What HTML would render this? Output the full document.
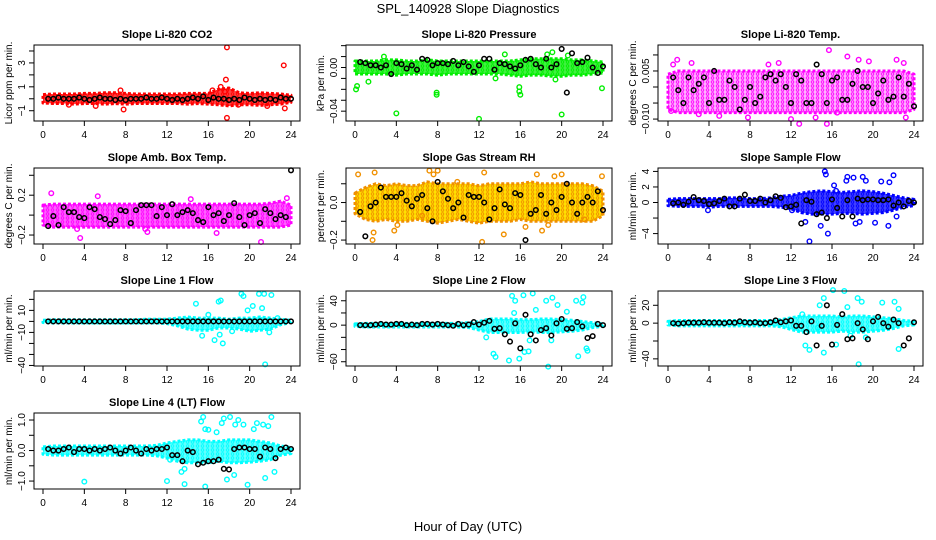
<!DOCTYPE html>
<html><head><meta charset="utf-8"><style>
html,body{margin:0;padding:0;background:#fff;}
svg{display:block;font-family:"Liberation Sans",sans-serif;}
</style></head><body>
<svg id="c" width="936" height="540" viewBox="0 0 936 540">
<defs id="defs"></defs>
<text x="468" y="13" text-anchor="middle" font-size="13">SPL_140928  Slope Diagnostics</text>
<text x="468" y="531" text-anchor="middle" font-size="13">Hour of Day (UTC)</text>
</svg>
<script>
const hoursBand=[0,1,2,3,4,5,6,7,8,9,10,11,12,13,14,15,16,17,18,19,20,21,22,23,24];
const xTicks=[0,4,8,12,16,20,24];
// P1 CO2
const p1Lo=[-0.35,-0.4,-0.4,-0.45,-0.4,-0.4,-0.45,-0.4,-0.45,-0.4,-0.4,-0.4,-0.4,-0.4,-0.45,-0.4,-0.45,-0.5,-0.6,-0.5,-0.5,-0.55,-0.5,-0.45,-0.3];
const p1Hi=[0.35,0.4,0.4,0.4,0.45,0.45,0.5,0.5,0.45,0.4,0.4,0.4,0.4,0.4,0.45,0.45,0.45,0.8,0.9,0.5,0.45,0.5,0.45,0.4,0.3];
const p1OutX=[17.8,23.3,17.7,17.8,23.4,7.8,5.1,7.5,17.2,17.6,16.4,2.5,18.9,21.7];
const p1OutY=[4.3,2.8,1.6,-1.6,-0.8,-0.9,-0.6,0.7,1.0,0.6,0.7,-0.5,-0.5,-0.6];
const p1Mean=[0,0,0.1,0,0,0,0.1,0,-0.1,0,0.1,0,0,-0.1,0,-0.1,0,0,0,0.1,0,0,0.1,0,-0.1,0,-0.1,0,0.1,0,0.2,-0.1,0.1,0,0,-0.1,0,-0.1,0.1,0,-0.1,0,-0.1,0,-0.1,0.1,0,0];
// P2 Pressure
const p2Lo=[-0.006,-0.006,-0.006,-0.006,-0.007,-0.006,-0.006,-0.006,-0.007,-0.006,-0.006,-0.006,-0.006,-0.006,-0.006,-0.007,-0.008,-0.007,-0.007,-0.008,-0.008,-0.007,-0.007,-0.006,-0.005];
const p2Hi=[0.006,0.006,0.006,0.007,0.007,0.006,0.006,0.007,0.006,0.006,0.006,0.006,0.006,0.006,0.006,0.006,0.007,0.008,0.008,0.008,0.008,0.007,0.007,0.006,0.005];
const p2OutX=[0.1,0.2,1.3,4,7.9,7.9,12,15.9,15.9,16,20,23.9,2.8,14.5,19.1,20.6,19.4,13.6,18.6];
const p2OutY=[-0.02,-0.017,-0.013,-0.042,-0.023,-0.025,-0.047,-0.018,-0.022,-0.025,-0.043,-0.019,0.01,0.012,0.014,0.011,-0.011,-0.01,0.012];
const p2Mean=[0.005,0.004,0.002,0.002,0,0.002,-0.006,0.004,0.003,-0.001,0.002,-0.002,0.008,0.007,0.002,0.004,0.004,0.003,0.006,0.002,0.005,0.001,-0.004,0.002,0.008,0.008,-0.002,0.004,0.003,0.001,-0.001,0.002,0.007,0.008,0.003,0,0.008,0,0.003,0.017,-0.023,0.013,0.004,0.005,0.009,0,-0.005,0.001];
// P3 Li-820 Temp
const p3Lo=[-0.007,-0.008,-0.008,-0.008,-0.008,-0.008,-0.008,-0.008,-0.008,-0.008,-0.008,-0.008,-0.008,-0.008,-0.008,-0.008,-0.008,-0.008,-0.008,-0.008,-0.008,-0.008,-0.008,-0.008,-0.007];
const p3Hi=[0.004,0.005,0.005,0.005,0.005,0.005,0.005,0.005,0.005,0.005,0.005,0.005,0.005,0.005,0.005,0.005,0.005,0.005,0.005,0.005,0.005,0.005,0.005,0.005,0.004];
const p3OutX=[0.9,2.3,0.5,5.0,7.8,9.8,10.8,12,12.8,14.4,15.5,15.7,17.5,18.6,19.6,23,22.3,23.2,16.5,3,0.3];
const p3OutY=[0.0085,0.0075,0.007,-0.009,-0.0095,0.007,0.0075,-0.01,-0.0115,-0.0095,-0.0115,0.0115,0.0095,0.0085,0.008,0.0075,0.0085,-0.0095,-0.008,-0.0085,-0.0075];
const p3Mean=[0.003,-0.001,-0.005,0.003,-0.001,0.001,0.003,-0.005,0.005,-0.004,-0.004,0.002,0,-0.007,-0.004,0,-0.005,-0.003,0.003,0.004,0.002,0.004,0,-0.005,0.004,0.002,-0.005,-0.005,0.007,0.004,-0.005,0.002,0.003,-0.004,-0.004,0.001,0.005,0,0,-0.005,-0.002,0.002,-0.004,-0.003,0.003,-0.003,0.001,-0.006];
// P4 Amb Box Temp
const p4Lo=[-0.1,-0.12,-0.12,-0.12,-0.12,-0.12,-0.12,-0.12,-0.12,-0.12,-0.12,-0.12,-0.12,-0.12,-0.12,-0.12,-0.12,-0.12,-0.12,-0.12,-0.12,-0.12,-0.12,-0.12,-0.1];
const p4Hi=[0.1,0.11,0.11,0.11,0.11,0.11,0.11,0.11,0.11,0.11,0.11,0.11,0.11,0.11,0.11,0.11,0.11,0.11,0.11,0.11,0.11,0.11,0.12,0.14,0.1];
const p4OutX=[0.8,3.6,5.3,9.9,14.3,16.8,21.1,3.3,10.1,23.6];
const p4OutY=[0.22,-0.23,0.19,-0.14,0.16,-0.18,-0.27,-0.14,-0.17,0.17];
const p4Mean=[-0.11,-0.01,-0.1,0.08,0.03,0.03,-0.02,-0.03,0.08,0.06,-0.02,-0.04,-0.09,-0.05,0.05,0.04,-0.08,0.05,0.1,0.1,0.1,-0.01,0.08,0,0.11,0,0.03,0.05,0.02,-0.05,-0.07,0.08,0,0.02,-0.06,0,0.12,-0.02,-0.1,0,0.02,-0.08,0.06,0.02,-0.04,0,-0.02,0.45];
// P5 Gas Stream RH
const p5Lo=[-0.06,-0.09,-0.1,-0.09,-0.1,-0.1,-0.09,-0.1,-0.11,-0.1,-0.09,-0.1,-0.11,-0.1,-0.1,-0.1,-0.09,-0.1,-0.1,-0.1,-0.1,-0.1,-0.1,-0.1,-0.07];
const p5Hi=[0.05,0.08,0.1,0.09,0.1,0.09,0.09,0.11,0.1,0.1,0.1,0.1,0.09,0.1,0.1,0.1,0.1,0.11,0.1,0.1,0.1,0.1,0.1,0.09,0.06];
const p5OutX=[0.3,1.9,3.8,7.2,7.6,8.0,9.9,12.3,12.5,14.4,16.5,17.6,18.1,18.7,19.3,20.0,22.2,23.9,1.7,1.8,4.1,6.5];
const p5OutY=[0.15,0.16,-0.15,0.17,0.15,0.17,0.11,-0.21,0.16,-0.17,-0.13,0.15,-0.15,-0.12,0.14,0.15,-0.09,0.14,-0.2,-0.16,-0.12,-0.07];
const p5Mean=[-0.05,-0.18,-0.02,0,0.08,0.03,0.03,0.03,0.05,0.01,-0.02,0.02,0.04,-0.03,-0.1,0.11,0.06,0.02,-0.03,0,-0.08,0.04,0.03,0.03,0,-0.09,-0.03,0.07,-0.01,-0.03,0.05,0.04,-0.2,-0.06,-0.04,0.04,-0.06,0,-0.04,0.03,0.1,0,-0.06,0,0.03,0,0.06,-0.04];
// P6 Sample Flow
const p6Lo=[-0.4,-0.5,-0.5,-0.5,-0.6,-0.5,-0.5,-0.5,-0.5,-0.5,-0.5,-0.6,-0.8,-1.3,-1.5,-1.5,-1.5,-1.4,-1.4,-1.5,-1.4,-1.3,-1.0,-0.6,-0.4];
const p6Hi=[0.4,0.5,0.5,0.5,0.5,0.5,0.6,0.6,0.5,0.5,0.6,0.8,0.9,1.2,1.4,1.5,1.4,1.3,1.4,1.5,1.4,1.2,0.9,0.6,0.4];
const p6OutX=[13.8,15.3,15.4,15.6,17.4,17.5,18.1,19.0,19.3,20.8,22,21.6,20.2,21.5,22.3,13.4,14.9,18.3,18.7,16.2,16.4,3.9,12.1];
const p6OutY=[-5,4,3.6,-4,2.8,3.3,3.2,3.3,2.8,2.7,3.5,2.6,-2.6,-3,-1.8,-2.5,-3,-2.7,-2.5,2.2,1.5,-1,-1];
const p6Mean=[-0.1,0,-0.3,0.1,0.7,0.3,0.2,-0.2,-0.1,0.2,0.5,-0.5,-0.5,0.5,1.0,0.2,0.2,0.5,0,0.3,0.8,0.6,-0.6,-0.5,-0.3,-2.7,0.3,0.1,-1.5,-1.3,-2.0,0.4,-0.7,-1.8,0.3,-1.8,0.5,0.3,0.4,0.4,0.3,0.3,0.4,-0.4,0,-0.5,0.2,0];
// P7 Line 1 Flow
const p7Lo=[-1,-1.5,-1.5,-1.5,-1.5,-1.5,-1.5,-1.5,-1.5,-1.5,-1.5,-1.5,-2,-4,-7,-8,-8,-6,-6,-7,-9,-8,-7,-3,-1];
const p7Hi=[1,1.5,1.5,1.5,1.5,1.5,1.5,1.5,1.5,1.5,2,2,2,3,4,3,3,3,2,3,3,4,3,2,1];
const p7OutX=[14.8,15.4,16.6,17.0,17.2,17.4,17.1,19.2,19.4,20.3,20.9,21.2,21.4,21.5,22.1,22.7,21.9,19.8,16.0,18.3];
const p7OutY=[16,-13,-17,18,19,-20,-12,25,23,14,25,12,25,-39,24,3,-10,10,6,-9];
const p7Mean=[0,0,0,0,0,0,0,0,0,0,0,0,0,0,0,0,0,0,0,0,0,0,0,0,0,0,0,0,0,0,0,0,0,0,0,0,0,0,0,0,0,0,0,0,0,0,0,0];
// P8 Line 2 Flow
const p8Lo=[-2,-3,-3,-3,-3,-3,-3,-3,-3,-3,-3,-4,-8,-12,-12,-12,-12,-11,-12,-12,-11,-10,-8,-4,-2];
const p8Hi=[2,3,3,3,3,3,3,3,3,3,3,4,6,10,10,10,9,9,10,10,9,8,6,4,2];
const p8OutX=[15.2,15.5,16.3,17.2,18.5,19.1,19.6,21.4,22.1,22,13.4,13.6,14.9,15.9,16.4,16.8,18.7,21.6,22.4,22.5,15.4,17.5,20.5,12.7,19,16.9];
const p8OutY=[48,40,49,52,40,45,33,40,46,37,-47,-52,-58,-55,-44,-43,-68,-51,-38,-42,20,25,22,-20,-25,-25];
const p8Mean=[0,0,0,1,2,1,1,2,2,0,1,0,2,2,1,2,1,0,-1,2,0,1,5,1,4,7,-6,-5,-15,-27,3,-38,17,-15,-25,-8,-5,-17,3,10,-6,-5,5,-2,-21,-18,2,0];
// P9 Line 3 Flow
const p9Lo=[-2,-3,-3,-3,-3,-3,-3,-3,-3,-3,-3,-4,-7,-10,-10,-10,-10,-9,-10,-10,-9,-8,-6,-3,-2];
const p9Hi=[2,3,3,3,3,3,3,3,3,3,3,4,6,8,8,8,8,7,8,8,7,6,5,3,2];
const p9OutX=[13.1,14.8,15.2,16.1,17.2,17.5,18.5,18.9,20.9,22.1,22.5,13.4,13.8,15.2,16.4,18.6,19.3,22.5,14.6,17.8];
const p9OutY=[10,20,28,37,36,18,28,24,23,24,16,-25,-30,-33,-24,-46,-16,-29,-5,-14];
const p9Mean=[0,-0.5,0,0.5,0.5,0.5,1,0.5,0.5,0.5,0,1,0.5,2,1,0.5,1,0,0,1,3,1,2,3,-3,-3,-10,2,-25,-3,20,-24,-2,10,-18,-17,0,-7,-18,2,7,0,-4,4,0,-25,-17,1];
// P10 Line 4 Flow
const p10Lo=[-0.12,-0.15,-0.15,-0.15,-0.15,-0.15,-0.15,-0.15,-0.15,-0.15,-0.15,-0.17,-0.25,-0.35,-0.4,-0.4,-0.4,-0.35,-0.4,-0.4,-0.38,-0.35,-0.3,-0.15,-0.1];
const p10Hi=[0.12,0.15,0.15,0.15,0.15,0.15,0.15,0.15,0.15,0.15,0.15,0.17,0.25,0.3,0.35,0.35,0.3,0.3,0.35,0.35,0.35,0.3,0.25,0.15,0.1];
const p10OutX=[4,12,13.7,15.7,15.5,15.3,15.7,16,16.8,17.3,17.5,18.1,18.6,18.9,19.4,20.4,20.7,21.3,21.8,22.1,22.4,21.5,19.8,18.5,17.8,13.4,13.7,12.3];
const p10OutY=[-1.02,-1.0,-1.1,-1.18,1.1,0.95,0.7,0.68,0.6,0.9,1.05,1.1,0.85,1.0,0.85,0.7,0.9,0.85,0.8,1.1,-0.7,-0.9,-1.12,-0.8,-0.95,-0.7,-0.6,-0.3];
const p10Mean=[0.05,0,0,0.05,0.1,-0.05,0.05,0.05,0,0.05,0,0.05,0.1,0,-0.1,0,0.1,0,-0.1,0.05,0,0.05,0.05,0.1,-0.15,-0.15,-0.35,0,-0.05,-0.45,-0.4,-0.35,-0.35,-0.3,-0.6,-0.62,0.05,0.1,0.1,0.05,0.05,-0.2,0.1,0.05,-0.25,0.05,0.1,0.05];

const panels=[
 {name:'co2',title:'Slope Li-820 CO2',ylab:'Licor ppm per min.',col:0,row:0,ymin:-1.86,ymax:4.5,ticks:[-1,0,1,2,3,4],labels:{'-1':'\u22121','1':'1','3':'3'},color:'#ff0000',bg:'#ff4040',lo:p1Lo,hi:p1Hi,ox:p1OutX,oy:p1OutY,mean:p1Mean},
 {name:'pressure',title:'Slope Li-820 Pressure',ylab:'kPa per min.',col:1,row:0,ymin:-0.049,ymax:0.0206,ticks:[-0.04,-0.03,-0.02,-0.01,0,0.01,0.02],labels:{'-0.04':'\u22120.04','0':'0.00'},color:'#00ee00',bg:'#40f040',lo:p2Lo,hi:p2Hi,ox:p2OutX,oy:p2OutY,mean:p2Mean},
 {name:'li820-temp',title:'Slope Li-820 Temp.',ylab:'degrees C per min.',col:2,row:0,ymin:-0.0106,ymax:0.0131,ticks:[-0.01,-0.005,0,0.005,0.01],labels:{'-0.01':'\u22120.010','0.005':'0.005'},color:'#ff00ff',bg:'#ffb0ff',lo:p3Lo,hi:p3Hi,ox:p3OutX,oy:p3OutY,mean:p3Mean},
 {name:'amb-box-temp',title:'Slope Amb. Box Temp.',ylab:'degrees C per min.',col:0,row:1,ymin:-0.29,ymax:0.473,ticks:[-0.2,0,0.2,0.4],labels:{'-0.2':'\u22120.2','0.2':'0.2'},color:'#ff00ff',bg:'#ff60ff',lo:p4Lo,hi:p4Hi,ox:p4OutX,oy:p4OutY,mean:p4Mean},
 {name:'gas-stream-rh',title:'Slope Gas Stream RH',ylab:'percent per min.',col:1,row:1,ymin:-0.221,ymax:0.184,ticks:[-0.2,-0.1,0,0.1],labels:{'-0.2':'\u22120.2','0':'0.0'},color:'#f09000',bg:'#ffe000',lo:p5Lo,hi:p5Hi,ox:p5OutX,oy:p5OutY,mean:p5Mean},
 {name:'sample-flow',title:'Slope Sample Flow',ylab:'ml/min per min.',col:2,row:1,ymin:-5.34,ymax:4.44,ticks:[-4,-2,0,2,4],labels:{'-4':'\u22124','0':'0','2':'2','4':'4'},color:'#0000ff',bg:'#4040ff',lo:p6Lo,hi:p6Hi,ox:p6OutX,oy:p6OutY,mean:p6Mean},
 {name:'line1-flow',title:'Slope Line 1 Flow',ylab:'ml/min per min.',col:0,row:2,ymin:-40.5,ymax:27.6,ticks:[-40,-30,-20,-10,0,10,20],labels:{'-40':'\u221240','-10':'\u221210','10':'10'},color:'#00ffff',bg:'#60ffff',lo:p7Lo,hi:p7Hi,ox:p7OutX,oy:p7OutY,mean:p7Mean},
 {name:'line2-flow',title:'Slope Line 2 Flow',ylab:'ml/min per min.',col:1,row:2,ymin:-67,ymax:56,ticks:[-60,-40,-20,0,20,40],labels:{'-60':'\u221260','0':'0','40':'40'},color:'#00ffff',bg:'#60ffff',lo:p8Lo,hi:p8Hi,ox:p8OutX,oy:p8OutY,mean:p8Mean},
 {name:'line3-flow',title:'Slope Line 3 Flow',ylab:'ml/min per min.',col:2,row:2,ymin:-48,ymax:36,ticks:[-40,-20,0,20],labels:{'-40':'\u221240','0':'0','20':'20'},color:'#00ffff',bg:'#60ffff',lo:p9Lo,hi:p9Hi,ox:p9OutX,oy:p9OutY,mean:p9Mean},
 {name:'line4-flow',title:'Slope Line 4 (LT) Flow',ylab:'ml/min per min.',col:0,row:3,ymin:-1.26,ymax:1.23,ticks:[-1,-0.5,0,0.5,1],labels:{'-1':'\u22121.0','0':'0.0','1':'1.0'},color:'#00ffff',bg:'#60ffff',lo:p10Lo,hi:p10Hi,ox:p10OutX,oy:p10OutY,mean:p10Mean}
];
const colBox=[[34,300,43,291],[346,612,355,603],[658,923,668,914]];
const rowBox=[[45,121],[168,244],[291,366],[413,489]];
const NS='http://www.w3.org/2000/svg';
const svg=document.getElementById('c');
const defs=document.getElementById('defs');
function mk(tag,attrs,parent){const e=document.createElementNS(NS,tag);for(const k in attrs)e.setAttribute(k,attrs[k]);(parent||svg).appendChild(e);return e;}
panels.forEach((p,pi)=>{
 const [bl,br,x0,x24]=colBox[p.col];const [bt,bb]=rowBox[p.row];
 const xs=h=>x0+(x24-x0)*h/24;
 const ys=v=>bb-(bb-bt)*(v-p.ymin)/(p.ymax-p.ymin);
 const pat=mk('pattern',{id:'pat'+pi,width:5,height:4,patternUnits:'userSpaceOnUse'},defs);
 mk('rect',{x:0,y:0,width:5,height:4,fill:p.bg},pat);
 mk('circle',{cx:2.5,cy:2,r:1.3,fill:'none',stroke:p.color,'stroke-width':0.9},pat);
 const g=mk('g',{});
 
 
 const t=mk('text',{x:(bl+br)/2,y:bt-7,'text-anchor':'middle','font-size':'11','font-weight':'bold'},g);t.textContent=p.title;
 
 
 const cx=bl-22,cy=(bt+bb)/2;
 const yl=mk('text',{x:cx,y:cy,'text-anchor':'middle','font-size':'10',transform:`rotate(-90 ${cx} ${cy})`},g);yl.textContent=p.ylab;
 
 
 let pts=hoursBand.map((h,i)=>xs(h)+','+ys(p.hi[i]));
 pts=pts.concat(hoursBand.slice().reverse().map((h,j)=>xs(h)+','+ys(p.lo[hoursBand.length-1-j])));
 const band=mk('polygon',{points:pts.join(' '),fill:'url(#pat'+pi+')',stroke:p.color,'stroke-width':'3','stroke-dasharray':'3 2','stroke-linejoin':'round'},g);
 
 
 p.ox.forEach((x,i)=>{const c=mk('circle',{cx:xs(x),cy:ys(p.oy[i]),r:2.3,fill:'none',stroke:p.color,'stroke-width':1.4},g);
  
  });
 p.mean.forEach((v,i)=>{const c=mk('circle',{cx:xs((i+1)*0.5),cy:ys(v),r:2.3,fill:'none',stroke:'#000','stroke-width':1.5},g);
  
  });
 const box=mk('rect',{x:bl,y:bt,width:br-bl,height:bb-bt,fill:'none',stroke:'#000','stroke-width':1},g);
 
 
 mk('line',{x1:xs(0),x2:xs(24),y1:bb,y2:bb,stroke:'#000'},g);
 xTicks.forEach(h=>{mk('line',{x1:xs(h),x2:xs(h),y1:bb,y2:bb+5,stroke:'#000'},g);
  const l=mk('text',{x:xs(h),y:bb+17,'text-anchor':'middle','font-size':'10'},g);l.textContent=h;
  
  });
 mk('line',{x1:bl,x2:bl,y1:ys(p.ticks[0]),y2:ys(p.ticks[p.ticks.length-1]),stroke:'#000'},g);
 p.ticks.forEach(v=>{mk('line',{x1:bl-5,x2:bl,y1:ys(v),y2:ys(v),stroke:'#000'},g);
  const lab=p.labels[String(v)];
  if(lab!==undefined){const lx=bl-9,ly=ys(v);const l=mk('text',{x:lx,y:ly,'text-anchor':'middle','font-size':'10',transform:`rotate(-90 ${lx} ${ly})`},g);l.textContent=lab;
   
   }});
});
</script>
</body></html>
